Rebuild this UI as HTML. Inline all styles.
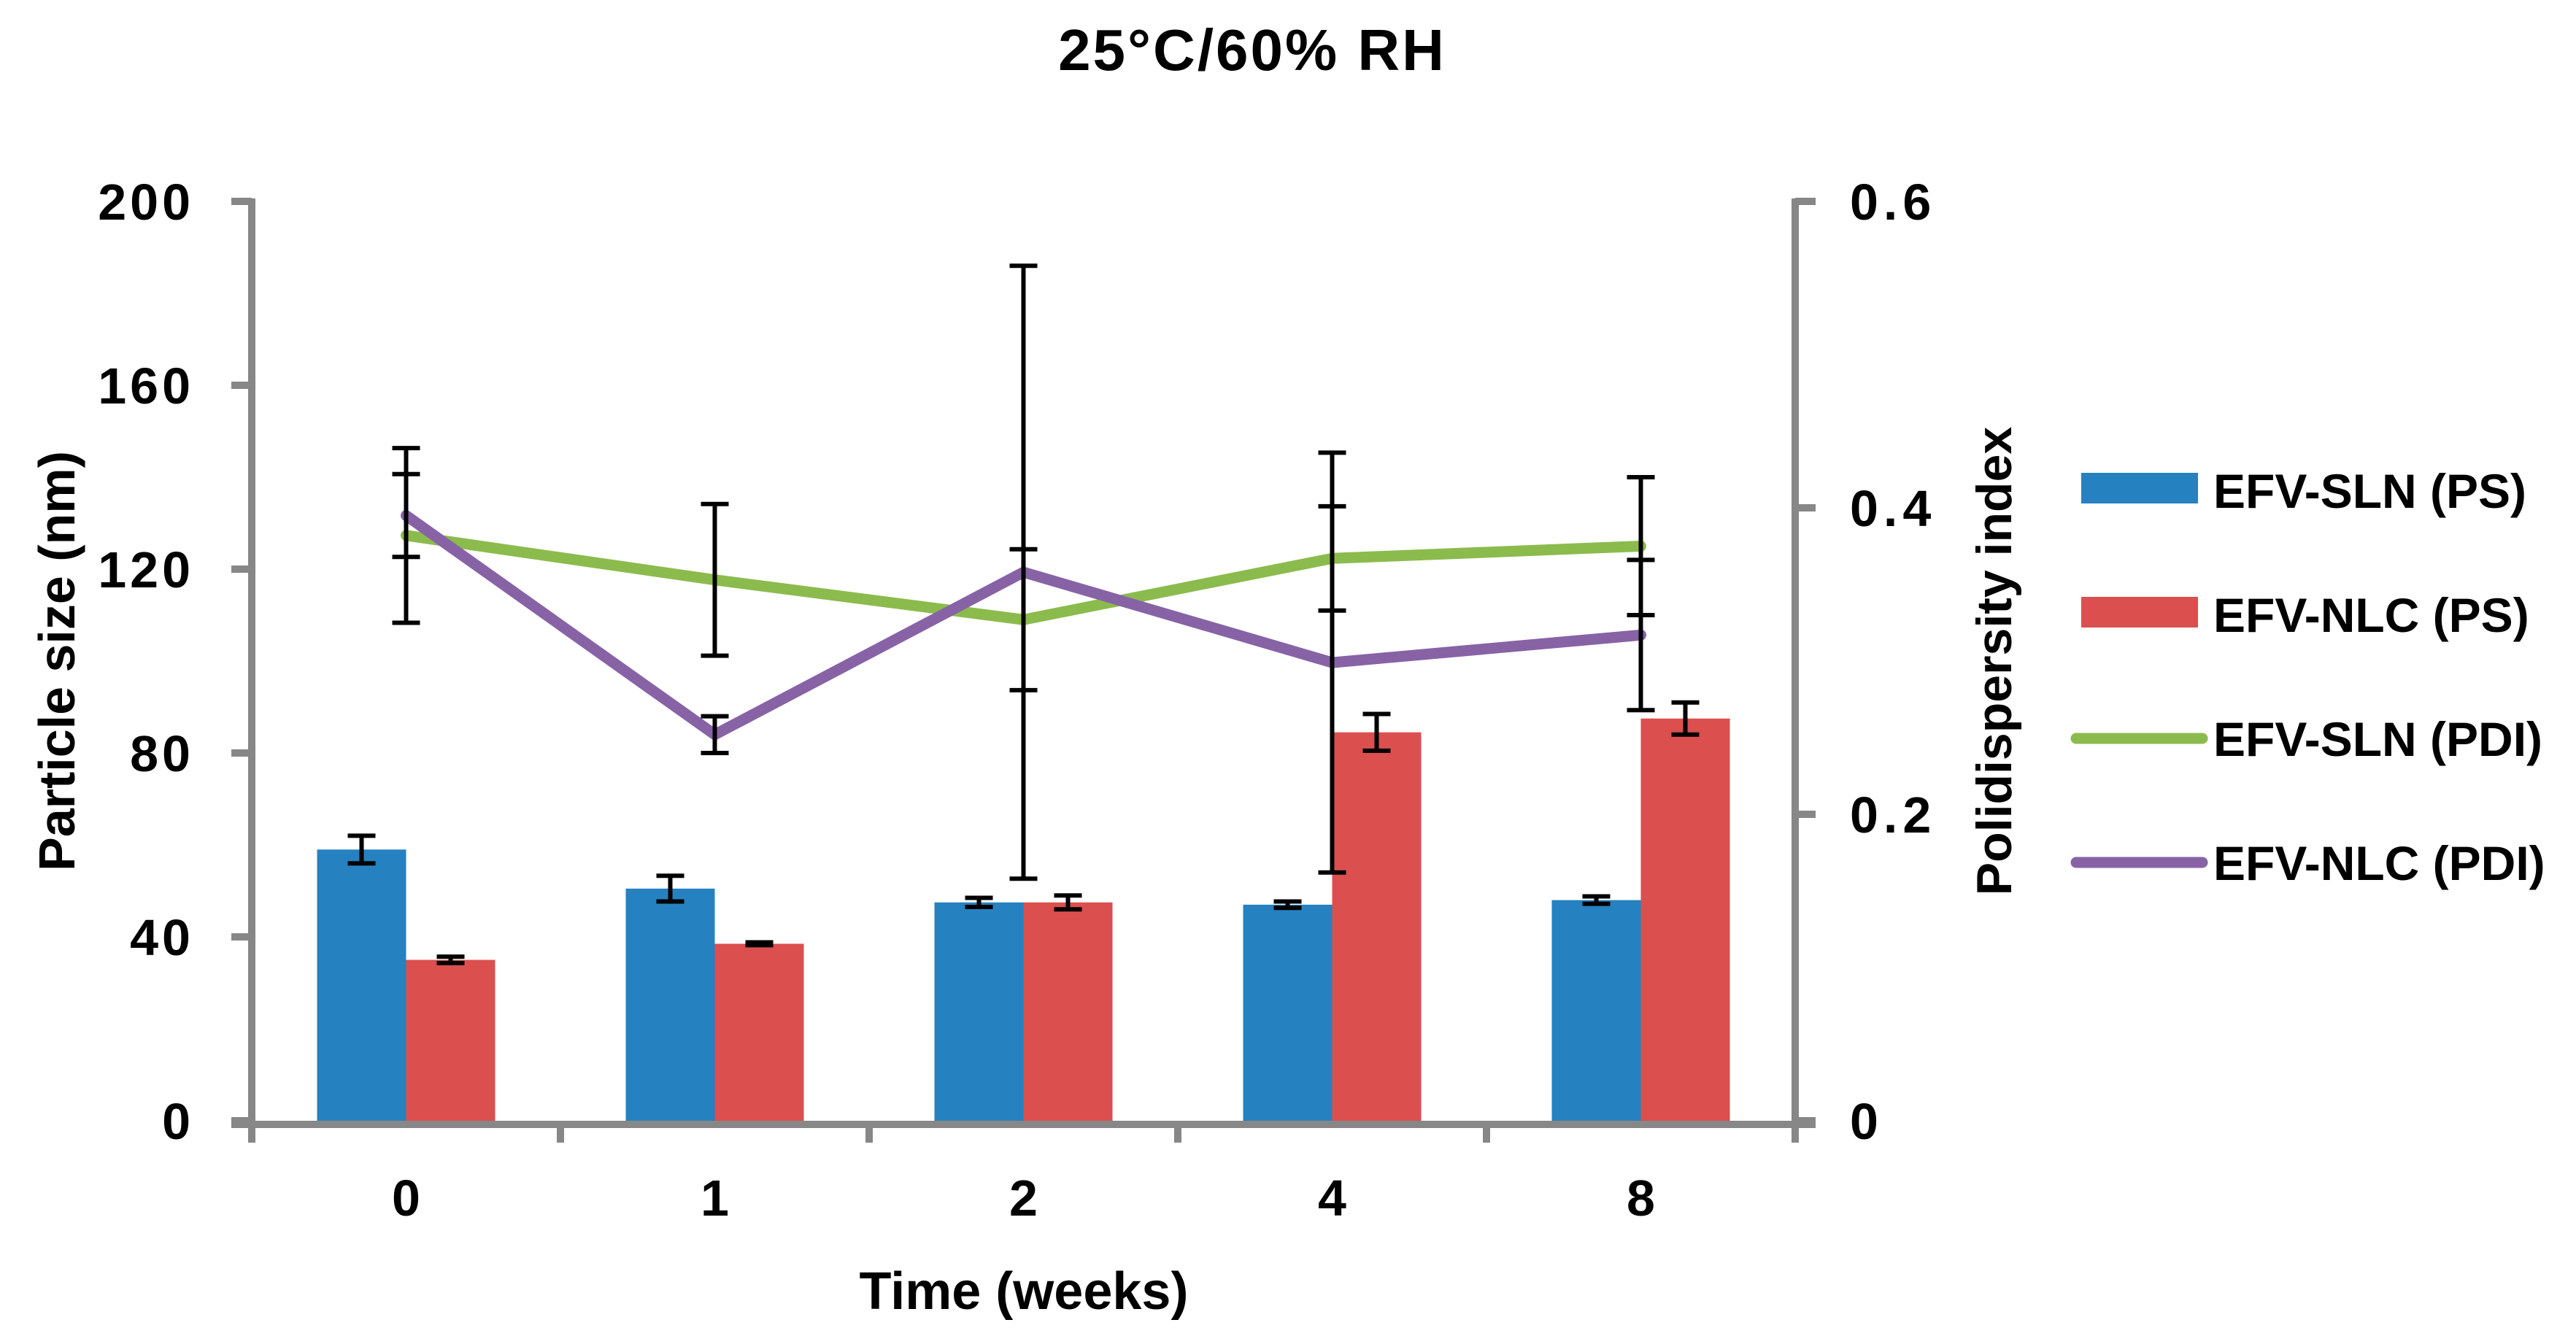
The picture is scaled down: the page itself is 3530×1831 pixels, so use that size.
<!DOCTYPE html>
<html><head><meta charset="utf-8">
<style>html,body{margin:0;padding:0;background:#fff;}svg{display:block;}
text{font-family:"Liberation Sans",sans-serif;font-weight:bold;fill:#000;}</style></head>
<body>
<svg id="chart" width="3530" height="1831" viewBox="0 0 3530 1831" xmlns="http://www.w3.org/2000/svg">
<text x="1716" y="96" font-size="80" letter-spacing="3" text-anchor="middle">25°C/60% RH</text>
<text transform="translate(102,906) rotate(-90)" font-size="70" text-anchor="middle">Particle size (nm)</text>
<text transform="translate(2756,906) rotate(-90)" font-size="68" text-anchor="middle">Polidispersity index</text>
<text x="1403" y="1794" font-size="72" text-anchor="middle">Time (weeks)</text>
<g id="marks"></g>
<g id="axes"></g>
<g>
<rect x="2852" y="648" width="160" height="42" fill="#2681c0"/>
<text x="3033" y="696" font-size="66">EFV-SLN (PS)</text>
<rect x="2852" y="818" width="160" height="42" fill="#dc4f4f"/>
<text x="3033" y="866" font-size="66">EFV-NLC (PS)</text>
<line x1="2845" y1="1012" x2="3018" y2="1012" stroke="#8cbb4d" stroke-width="15" stroke-linecap="round"/>
<text x="3033" y="1036" font-size="66">EFV-SLN (PDI)</text>
<line x1="2845" y1="1182" x2="3018" y2="1182" stroke="#8763a6" stroke-width="15" stroke-linecap="round"/>
<text x="3033" y="1206" font-size="66">EFV-NLC (PDI)</text>
</g>
</svg>
<script>
const categories = ['0','1','2','4','8'];
const slnPS = [59, 50.5, 47.5, 47, 48];
const slnPSErr = [3, 2.8, 1, 0.7, 0.8];
const nlcPS = [35, 38.5, 47.5, 84.5, 87.5];
const nlcPSErr = [0.7, 0.3, 1.5, 4, 3.5];
const slnPDI = [0.382, 0.353, 0.327, 0.367, 0.375];
const slnPDIErr = [0.057, 0.0495, 0.046, 0.034, 0.045];
const nlcPDI = [0.395, 0.252, 0.358, 0.299, 0.317];
const nlcPDIErr = [0.027, 0.012, 0.2, 0.137, 0.049];
const leftTicks = [0, 40, 80, 120, 160, 200];
const rightTicks = [0, 0.2, 0.4, 0.6];

const NS = 'http://www.w3.org/2000/svg';
const X0 = 345, X1 = 2460, Y0 = 1536, Y1 = 276;
const bw = (X1 - X0) / categories.length;
const yL = v => Y0 - (v / 200) * (Y0 - Y1);
const yR = v => Y0 - (v / 0.6) * (Y0 - Y1);
const xC = i => X0 + bw * (i + 0.5);
const barW = 122;
const marks = document.getElementById('marks');
const axes = document.getElementById('axes');
function mk(tag, attrs, parent) {
  const e = document.createElementNS(NS, tag);
  for (const k in attrs) e.setAttribute(k, attrs[k]);
  parent.appendChild(e);
  return e;
}
function errBar(x, yTop, yBot, parent, name) {
  const g = mk('g', {stroke: '#000', 'stroke-width': 6}, parent);
  
  
  mk('line', {x1: x, y1: yTop, x2: x, y2: yBot}, g);
  mk('line', {x1: x - 19, y1: yTop, x2: x + 19, y2: yTop}, g);
  mk('line', {x1: x - 19, y1: yBot, x2: x + 19, y2: yBot}, g);
}
categories.forEach((c, i) => {
  const xb = xC(i) - barW;
  const b1 = mk('rect', {x: xb, y: yL(slnPS[i]), width: barW, height: Y0 - yL(slnPS[i]), fill: '#2681c0'}, marks);
  
  
  const b2 = mk('rect', {x: xC(i), y: yL(nlcPS[i]), width: barW, height: Y0 - yL(nlcPS[i]), fill: '#dc4f4f'}, marks);
  
  
  errBar(xb + barW / 2, yL(slnPS[i] + slnPSErr[i]), yL(slnPS[i] - slnPSErr[i]), marks, 'error-sln-ps-week-' + c);
  errBar(xC(i) + barW / 2, yL(nlcPS[i] + nlcPSErr[i]), yL(nlcPS[i] - nlcPSErr[i]), marks, 'error-nlc-ps-week-' + c);
});
function line(vals, color, name) {
  const p = mk('polyline', {points: vals.map((v, i) => xC(i) + ',' + yR(v)).join(' '), fill: 'none', stroke: color, 'stroke-width': 15, 'stroke-linejoin': 'round', 'stroke-linecap': 'round'}, marks);
  
  
}
line(slnPDI, '#8cbb4d', 'line-sln-pdi');
line(nlcPDI, '#8763a6', 'line-nlc-pdi');
categories.forEach((c, i) => {
  errBar(xC(i), yR(slnPDI[i] + slnPDIErr[i]), yR(slnPDI[i] - slnPDIErr[i]), marks, 'error-sln-pdi-week-' + c);
  errBar(xC(i), yR(nlcPDI[i] + nlcPDIErr[i]), yR(nlcPDI[i] - nlcPDIErr[i]), marks, 'error-nlc-pdi-week-' + c);
});
const ax = {stroke: '#878787', 'stroke-width': 10};
const la = mk('line', Object.assign({x1: X0, y1: Y1 - 4, x2: X0, y2: Y0 + 30}, ax), axes);


const ra = mk('line', Object.assign({x1: X1, y1: Y1 - 4, x2: X1, y2: Y0 + 30}, ax), axes);


const xa = mk('line', {x1: X0 - 28, y1: Y0 + 5, x2: X1 + 28, y2: Y0 + 5, stroke: '#878787', 'stroke-width': 10}, axes);


leftTicks.forEach(t => {
  const y = yL(t);
  mk('line', Object.assign({x1: X0 - 28, y1: y, x2: X0, y2: y}, ax), axes);
  const tx = mk('text', {x: 266, y: y + 25, 'font-size': 70, 'letter-spacing': 5, 'text-anchor': 'end'}, axes);
  tx.textContent = String(t);
  
  
});
rightTicks.forEach(t => {
  const y = yR(t);
  mk('line', Object.assign({x1: X1, y1: y, x2: X1 + 28, y2: y}, ax), axes);
  const tx = mk('text', {x: 2535, y: y + 25, 'font-size': 70, 'letter-spacing': 7}, axes);
  tx.textContent = t === 0 ? '0' : t.toFixed(1);
  
  
});
for (let i = 0; i <= categories.length; i++) {
  const x = X0 + bw * i;
  mk('line', Object.assign({x1: x, y1: Y0, x2: x, y2: Y0 + 30}, ax), axes);
}
categories.forEach((c, i) => {
  const tx = mk('text', {x: xC(i), y: 1666, 'font-size': 70, 'text-anchor': 'middle'}, axes);
  tx.textContent = c;
  
  
});
</script>
</body></html>
